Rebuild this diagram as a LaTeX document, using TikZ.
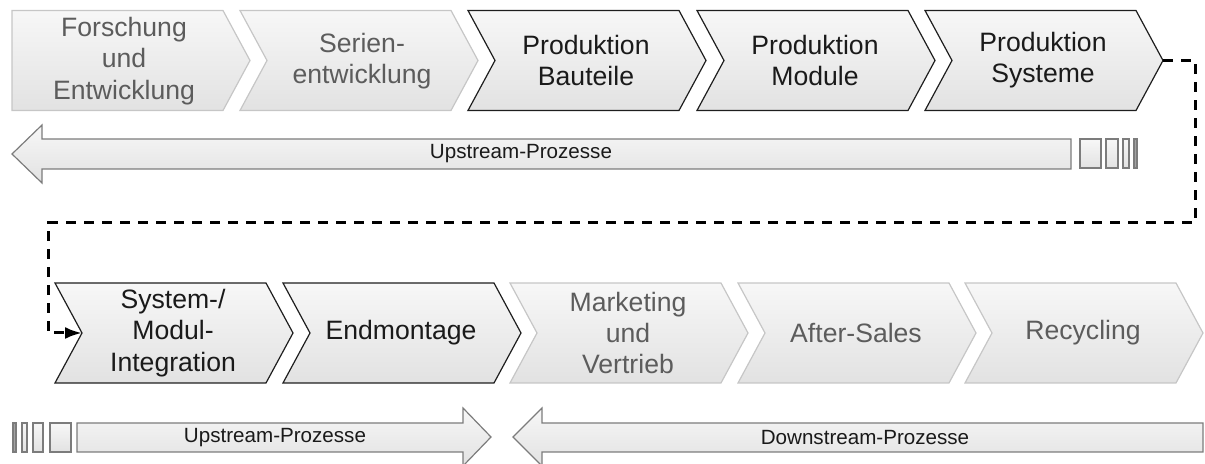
\documentclass[tikz,border=0pt]{standalone}
\usepackage{fontspec}
\setmainfont{Liberation Sans}
\usetikzlibrary{arrows.meta}

\definecolor{fillTop}{HTML}{F7F7F7}
\definecolor{fillBot}{HTML}{E2E2E2}
\definecolor{paleline}{HTML}{C6C6C6}
\definecolor{paletext}{HTML}{5C5C5C}
\definecolor{darkline}{HTML}{1E1E1E}
\definecolor{darktext}{HTML}{1A1A1A}
\definecolor{barline}{HTML}{7C7C7C}

\tikzset{
  stage/.style={top color=fillTop, bottom color=fillBot, line width=0.6pt, line join=miter},
  stagepale/.style={stage, draw=paleline},
  stagedark/.style={stage, draw=darkline},
  stagetext/.style={align=center, inner sep=0pt, font=\fontsize{13.3}{15.6}\selectfont},
  labelpale/.style={stagetext, text=paletext},
  labeldark/.style={stagetext, text=darktext},
  barshape/.style={top color=fillTop, bottom color=fillBot, draw=barline, line width=0.6pt, line join=miter},
  tickbox/.style={barshape},
  tickthin/.style={fill=barline!70, draw=barline, line width=0.6pt},
  barlabel/.style={inner sep=0pt, text=darktext, font=\fontsize{10.3}{12}\selectfont},
  flow/.style={draw=black, line width=1.5pt, dash pattern=on 5pt off 4pt,
               -{Latex[length=8.5pt, width=6pt]}}
}

% chevron of a process chain: name, left x, top y, style, notch depth
\newcommand\stageshape[5]{%
  \path[#4] (#2,#3) -- (#2+211,#3) -- (#2+238,#3+50) -- (#2+211,#3+100)
        -- (#2,#3+100) -- (#2+#5,#3+50) -- cycle;
  \coordinate (#1-tip) at (#2+238,#3+50);
  \coordinate (#1-notch) at (#2+#5,#3+50);
  \coordinate (#1-mid) at (#2+118,#3+50);
}

\begin{document}
\begin{tikzpicture}[x=0.5pt, y=-0.5pt]
\useasboundingbox (0,0) rectangle (1205,464);

% ---- upper process chain
\stageshape{fue}{12}{10.5}{stagepale}{0}
\stageshape{ser}{240}{10.5}{stagepale}{27}
\stageshape{pb}{468}{10.5}{stagedark}{27}
\stageshape{pm}{697}{10.5}{stagedark}{27}
\stageshape{ps}{925}{10.5}{stagedark}{27}

\node[labelpale] (fuet) at (124,61) {Forschung\\und\\Entwicklung};
\node[labelpale] (sert) at (362,61) {Serien-\\entwicklung};
\node[labeldark] (pbt) at (pb-mid) {Produktion\\Bauteile};
\node[labeldark] (pmt) at (pm-mid) {Produktion\\Module};
\node[labeldark] (pst) at (ps-mid) {Produktion\\Systeme};

% ---- upstream bar of the upper chain
\path[barshape] (12,154) -- (42,125) -- (42,139) -- (1071,139) -- (1071,169)
      -- (42,169) -- (42,183) -- cycle;
\node[barlabel] (up1) at (521,154) {Upstream-Prozesse};
\path[tickbox] (1080,139) rectangle (1101,168);
\path[tickbox] (1106,139) rectangle (1118,168);
\path[tickbox] (1123,139) rectangle (1129,168);
\path[tickthin] (1134,139) rectangle (1137,168);

% ---- lower process chain
\stageshape{smi}{55}{283}{stagedark}{27}
\stageshape{em}{283}{283}{stagedark}{27}
\stageshape{mv}{510}{283}{stagepale}{27}
\stageshape{as}{738}{283}{stagepale}{27}
\stageshape{rc}{965}{283}{stagepale}{27}

\node[labeldark] (smit) at (smi-mid) {System-/\\Modul-\\Integration};
\node[labeldark] (emt) at (em-mid) {Endmontage};
\node[labelpale] (mvt) at (mv-mid) {Marketing\\und\\Vertrieb};
\node[labelpale] (ast) at (as-mid) {After-Sales};
\node[labelpale] (rct) at (rc-mid) {Recycling};

% ---- upstream / downstream bars of the lower chain
\path[tickthin] (13,423) rectangle (16,452);
\path[tickbox] (22,423) rectangle (27,452);
\path[tickbox] (33,423) rectangle (43,452);
\path[tickbox] (50,423) rectangle (71,452);
\path[barshape] (77,423) -- (463,423) -- (463,408) -- (491,437) -- (463,466)
      -- (463,452) -- (77,452) -- cycle;
\node[barlabel] (up2) at (275,438) {Upstream-Prozesse};

\path[barshape] (513,437) -- (542,408) -- (542,423) -- (1203,423) -- (1203,452)
      -- (542,452) -- (542,466) -- cycle;
\node[barlabel] (down) at (865,438) {Downstream-Prozesse};

% ---- link from the upper chain to the lower chain
\coordinate (turnA) at (1195,223);
\coordinate (turnB) at (48,223);
\draw[flow] (ps-tip) -| (turnA) -- (turnB) |- (smi-notch);
\end{tikzpicture}
\end{document}
